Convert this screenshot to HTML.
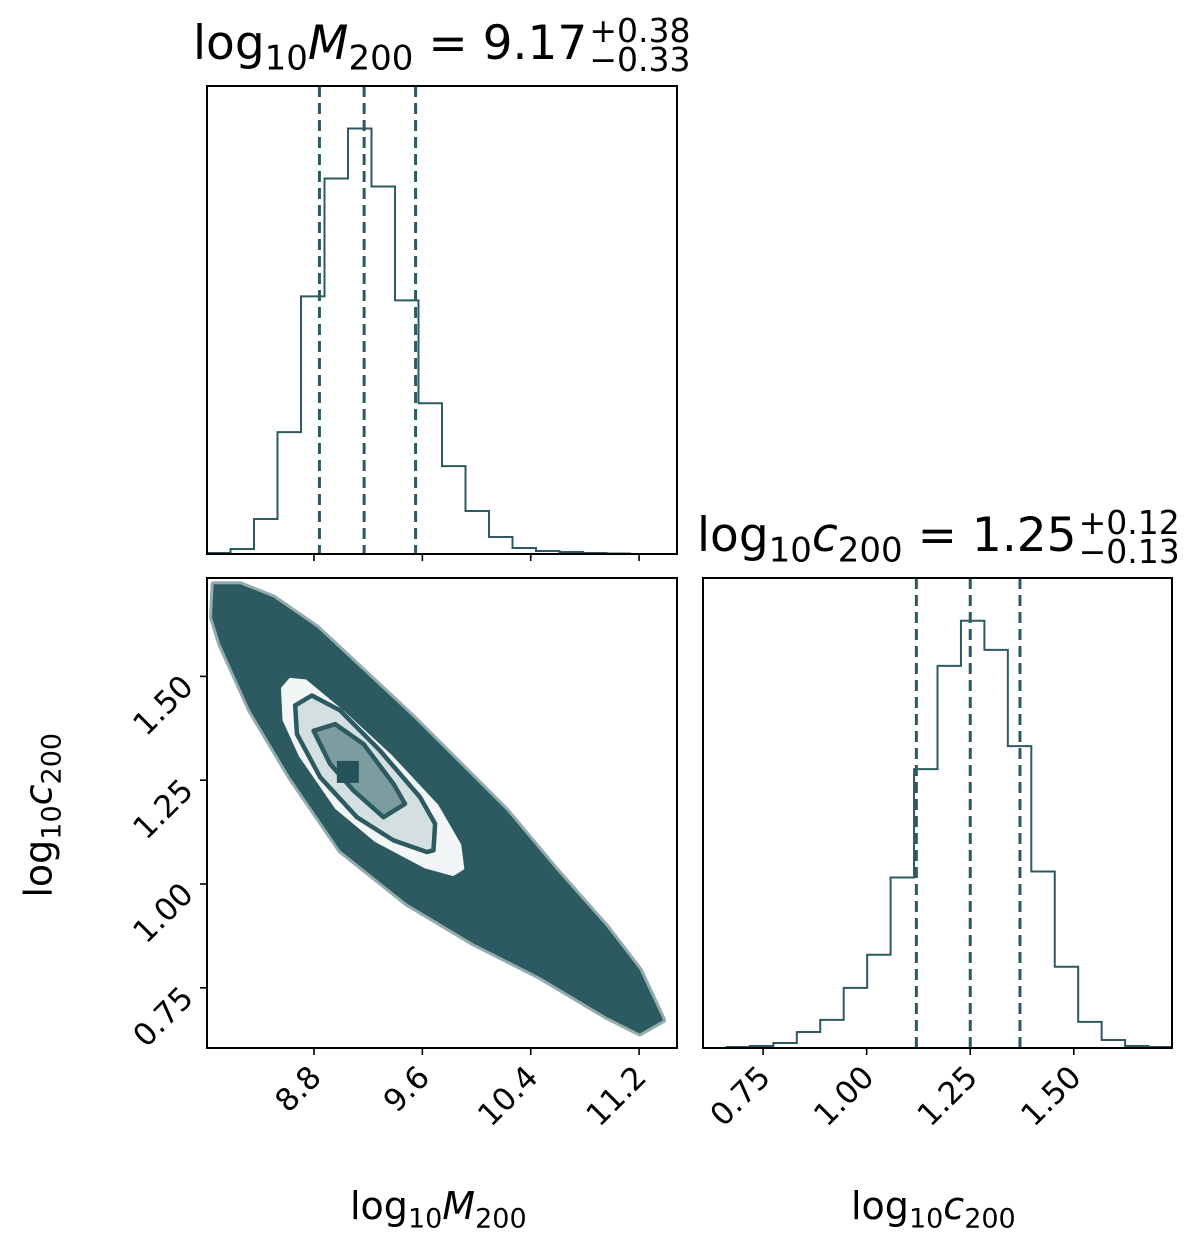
<!DOCTYPE html>
<html><head><meta charset="utf-8"><style>
body{margin:0;background:#fff}
svg{display:block}
text{font-family:"DejaVu Sans","Liberation Sans",sans-serif;fill:#000}
</style></head><body>
<svg id="c" width="1200" height="1257" viewBox="0 0 1200 1257" xmlns="http://www.w3.org/2000/svg"></svg>
<script>
const mBins=[1,5,35,122,258,376,426,368,254,151,88,43,17,6,3,2,1,0.5,0,0];
const cBins=[0,1,2,5,16,28,60,93,170,278,381,426,397,301,176,81,26,8,2,1];
const mRange=[8.01,11.48];
const cRange=[0.605,1.737];
const mQuant=[8.84,9.17,9.55];
const cQuant=[1.12,1.25,1.37];
const mTicks=[8.8,9.6,10.4,11.2];
const mTickLabels=["8.8","9.6","10.4","11.2"];
const cTicks=[0.75,1.0,1.25,1.5];
const cTickLabels=["0.75","1.00","1.25","1.50"];
const cloud=[[8.059,1.722],[8.256,1.722],[8.502,1.690],[8.821,1.618],[9.190,1.506],[9.534,1.401],[9.878,1.289],[10.222,1.177],[10.591,1.033],[10.960,0.897],[11.205,0.793],[11.378,0.672],[11.205,0.640],[10.960,0.680],[10.468,0.776],[9.977,0.857],[9.485,0.953],[8.993,1.081],[8.624,1.257],[8.329,1.418],[8.108,1.578],[8.047,1.642]];
const contourOuter=[[8.539,1.474],[8.613,1.502],[8.748,1.498],[9.043,1.418],[9.387,1.314],[9.731,1.194],[9.903,1.097],[9.928,1.033],[9.830,1.013],[9.609,1.033],[9.240,1.097],[8.945,1.177],[8.674,1.305],[8.551,1.393]];
const contourMid=[[8.661,1.430],[8.784,1.454],[8.993,1.418],[9.288,1.321],[9.583,1.209],[9.694,1.145],[9.682,1.081],[9.633,1.077],[9.387,1.105],[9.116,1.161],[8.846,1.257],[8.674,1.361]];
const contourInner=[[8.797,1.369],[8.956,1.385],[9.166,1.337],[9.387,1.241],[9.472,1.193],[9.313,1.161],[9.092,1.225],[8.919,1.289]];
const peak=[9.05,1.27];

const C='#2c5a60',NS='http://www.w3.org/2000/svg';
const svg=document.getElementById('c');
function el(t,a,p){const e=document.createElementNS(NS,t);for(const k in a)e.setAttribute(k,a[k]);(p||svg).appendChild(e);return e;}
const P1={x0:207,x1:677,y0:86,y1:554},P2={x0:207,x1:677,y0:578,y1:1048},P3={x0:703,x1:1172,y0:578,y1:1048};
const sx=(p,r)=>v=>p.x0+(v-r[0])/(r[1]-r[0])*(p.x1-p.x0);
const sy=(p,r)=>v=>p.y1-(v-r[0])/(r[1]-r[0])*(p.y1-p.y0);
function hist(p,bins,range,q,name){
  const X=sx(p,range),mx=Math.max(...bins),Y=sy(p,[0,mx*1.1]);
  const w=(range[1]-range[0])/bins.length;let d='M'+p.x0+','+p.y1;
  bins.forEach((b,i)=>{const a=X(range[0]+i*w),c=X(range[0]+(i+1)*w);d+=` L${a},${Y(b)} L${c},${Y(b)}`;});
  d+=` L${p.x1},${p.y1}`;
  const h=el('path',{d,fill:'none',stroke:C,'stroke-width':2});
  
  
  q.forEach((v,i)=>{const l=el('line',{x1:X(v),x2:X(v),y1:p.y0,y2:p.y1,stroke:C,'stroke-width':3,'stroke-dasharray':'11,6'});
    
    });
}
function frame(p,name){const r=el('rect',{x:p.x0,y:p.y0,width:p.x1-p.x0,height:p.y1-p.y0,fill:'none',stroke:'#000','stroke-width':2});
  
  }
function xticks(p,range,ticks,labels,name){const X=sx(p,range);ticks.forEach((t,i)=>{const x=X(t);
  el('line',{x1:x,x2:x,y1:p.y1,y2:p.y1+7,stroke:'#000','stroke-width':1.6});
  if(labels){const tx=el('text',{x:x+9,y:p.y1+31,'font-size':31,'text-anchor':'end',transform:`rotate(-45 ${x+9} ${p.y1+31})`});tx.textContent=labels[i];
    
    }});}
hist(P1,mBins,mRange,mQuant,'m200');frame(P1,'m200-hist-panel');xticks(P1,mRange,mTicks,null,'m200');
const X2=sx(P2,mRange),Y2=sy(P2,cRange);
const pts=a=>a.map(v=>X2(v[0])+','+Y2(v[1])).join(' ');
const g=el('g',{});
el('polygon',{points:pts(cloud),fill:C,stroke:C,'stroke-width':6,'stroke-linejoin':'round','stroke-opacity':0.5},g);
const c1=el('polygon',{points:pts(contourOuter),fill:'#f3f6f6',stroke:C,'stroke-width':4.5,'stroke-linejoin':'round'},g);

const c2=el('polygon',{points:pts(contourMid),fill:'#d3dfe0',stroke:C,'stroke-width':4.5,'stroke-linejoin':'round'},g);

const c3=el('polygon',{points:pts(contourInner),fill:'#7d9c9f',stroke:C,'stroke-width':4.5,'stroke-linejoin':'round'},g);

const pk=el('rect',{x:X2(peak[0])-11,y:Y2(peak[1])-11,width:22,height:22,fill:'#24525a'},g);

frame(P2,'joint-panel');xticks(P2,mRange,mTicks,mTickLabels,'m200');
cTicks.forEach((t,i)=>{const y=Y2(t);el('line',{x1:P2.x0-7,x2:P2.x0,y1:y,y2:y,stroke:'#000','stroke-width':1.6});
  const tx=el('text',{x:P2.x0-12,y:y+12,'font-size':31,'text-anchor':'end',transform:`rotate(-45 ${P2.x0-12} ${y+12})`});tx.textContent=cTickLabels[i];
  });
hist(P3,cBins,cRange,cQuant,'c200');frame(P3,'c200-hist-panel');xticks(P3,cRange,cTicks,cTickLabels,'c200');
</script>
<div style="position:absolute;left:0;top:0;width:1200px;height:1257px;pointer-events:none;font-family:'DejaVu Sans','Liberation Sans',sans-serif">
<div style="position:absolute;left:193px;top:16px;font-size:47px;white-space:nowrap">log<sub style="font-size:34px">10</sub><i>M</i><sub style="font-size:34px">200</sub> = 9.17<span style="display:inline-block;vertical-align:middle;font-size:33px;line-height:29px;margin-left:2px;position:relative;top:-2px">+0.38<br>−0.33</span></div>
<div style="position:absolute;left:697px;top:508px;font-size:47px;white-space:nowrap">log<sub style="font-size:34px">10</sub><i>c</i><sub style="font-size:34px">200</sub> = 1.25<span style="display:inline-block;vertical-align:middle;font-size:33px;line-height:29px;margin-left:2px;position:relative;top:-2px">+0.12<br>−0.13</span></div>
<div style="position:absolute;left:350px;top:1184px;font-size:38px;white-space:nowrap">log<sub style="font-size:27px">10</sub><i>M</i><sub style="font-size:27px">200</sub></div>
<div style="position:absolute;left:851px;top:1184px;font-size:38px;white-space:nowrap">log<sub style="font-size:27px">10</sub><i>c</i><sub style="font-size:27px">200</sub></div>
<div style="position:absolute;left:-48px;top:790px;font-size:38px;white-space:nowrap;transform:rotate(-90deg);transform-origin:center;width:180px;text-align:center">log<sub style="font-size:27px">10</sub><i>c</i><sub style="font-size:27px">200</sub></div>
</div>
</body></html>
